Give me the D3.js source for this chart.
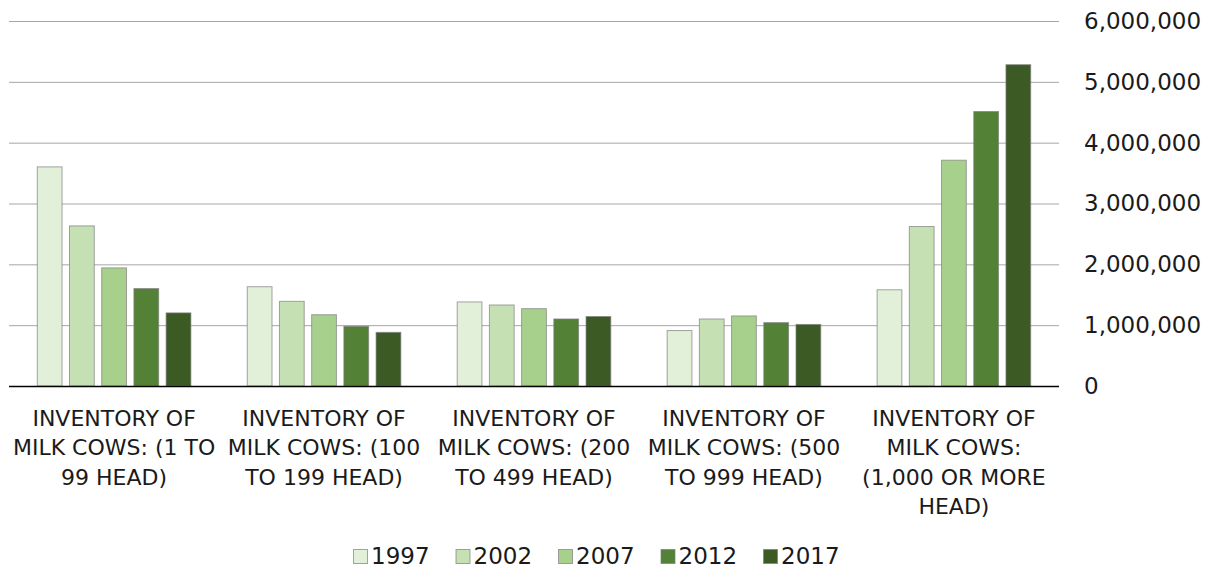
<!DOCTYPE html>
<html>
<head>
<meta charset="utf-8">
<script src="https://cdn.jsdelivr.net/npm/d3@7"></script>
<style>
  body { margin: 0; background: #fff; }
  text { font-family: "DejaVu Sans", sans-serif; fill: #1a1a1a; }
</style>
</head>
<body>
<div id="chart"></div>
<script>
const categories = [
    "INVENTORY OF MILK COWS: (1 TO 99 HEAD)",
    "INVENTORY OF MILK COWS: (100 TO 199 HEAD)",
    "INVENTORY OF MILK COWS: (200 TO 499 HEAD)",
    "INVENTORY OF MILK COWS: (500 TO 999 HEAD)",
    "INVENTORY OF MILK COWS: (1,000 OR MORE HEAD)"
]
const years = ["1997", "2002", "2007", "2012", "2017"]
const colors = ["#e2efd9", "#c5e0b3", "#a8d08d", "#538135", "#3b5a24"]
// one array per year, in category order
const v1997 = [3610000, 1640000, 1390000, 920000, 1590000]
const v2002 = [2640000, 1400000, 1340000, 1110000, 2630000]
const v2007 = [1950000, 1180000, 1280000, 1160000, 3720000]
const v2012 = [1610000, 990000, 1110000, 1050000, 4520000]
const v2017 = [1210000, 890000, 1150000, 1020000, 5290000]
const yTicks = [0, 1000000, 2000000, 3000000, 4000000, 5000000, 6000000]

const series = [v1997, v2002, v2007, v2012, v2017]

const width = 1212
const height = 572
const plot = {left: 9, right: 1059, top: 21, bottom: 386}

const svg = d3.select("#chart")
    .append("svg")
    .attr("width", width)
    .attr("height", height)

const x0 = d3.scaleBand()
    .domain(categories)
    .range([plot.left, plot.right])
    .paddingInner(0.233)
    .paddingOuter(0.117)

const x1 = d3.scaleBand()
    .domain(years)
    .range([0, x0.bandwidth()])
    .paddingInner(0.2)
    .paddingOuter(0.1)

const y = d3.scaleLinear()
    .domain([0, 6000000])
    .range([plot.bottom, plot.top])

const color = d3.scaleOrdinal().domain(years).range(colors)

// gridlines
svg.append("g")
    .selectAll("line")
    .data(yTicks.slice(1))
    .enter()
    .append("line")
    .attr("x1", plot.left)
    .attr("x2", plot.right)
    .attr("y1", d => y(d) + 0.5)
    .attr("y2", d => y(d) + 0.5)
    .attr("stroke", "#a6a6a6")
    .attr("stroke-width", 1)

// right axis labels
const yAxis = d3.axisRight(y)
    .tickValues(yTicks)
    .tickSize(0)
    .tickPadding(0)
    .tickFormat(d3.format(","))

svg.append("g")
    .attr("transform", "translate(1084,0)")
    .call(yAxis)
    .call(g => g.select(".domain").remove())
    .selectAll("text")
    .style("font-family", "DejaVu Sans, sans-serif")
    .style("font-size", "23px")
    .attr("fill", "#1a1a1a")

// bars
const groups = svg.append("g")
    .selectAll("g")
    .data(categories)
    .enter()
    .append("g")
    .attr("transform", d => "translate(" + x0(d) + ",0)")

groups.selectAll("rect")
    .data((c, i) => years.map((yr, j) => ({year: yr, value: series[j][i]})))
    .enter()
    .append("rect")
    .attr("x", d => x1(d.year) + 0.5)
    .attr("y", d => y(d.value) + 0.5)
    .attr("width", x1.bandwidth() - 1)
    .attr("height", d => plot.bottom - y(d.value) - 0.5)
    .attr("fill", d => color(d.year))
    .attr("stroke", "#7f7f7f")
    .attr("stroke-opacity", 0.7)
    .attr("stroke-width", 1)

// baseline
svg.append("line")
    .attr("x1", plot.left)
    .attr("x2", plot.right)
    .attr("y1", plot.bottom + 0.5)
    .attr("y2", plot.bottom + 0.5)
    .attr("stroke", "#000")
    .attr("stroke-width", 1.5)

// category labels, wrapped to the band width
function wrapWords(text, maxWidth, measure) {
    const words = text.split(" ")
    const lines = []
    let line = ""
    words.forEach(function(w) {
        const test = line ? line + " " + w : w
        if (line && measure(test) > maxWidth) {
            lines.push(line)
            line = w
        } else {
            line = test
        }
    })
    if (line) lines.push(line)
    return lines
}

const measurer = svg.append("text")
    .style("font-size", "22px")
    .attr("visibility", "hidden")
function measure(s) {
    measurer.text(s)
    return measurer.node().getComputedTextLength()
}

svg.append("g")
    .selectAll("text")
    .data(categories)
    .enter()
    .append("text")
    .attr("text-anchor", "middle")
    .style("font-size", "22px")
    .attr("transform", d => "translate(" + (x0(d) + x0.bandwidth() / 2) + ",426)")
    .each(function(d) {
        const lines = wrapWords(d, 207, measure)
        d3.select(this).selectAll("tspan")
            .data(lines)
            .enter()
            .append("tspan")
            .attr("x", 0)
            .attr("y", (l, i) => i * 29.3)
            .text(l => l)
    })
measurer.remove()

// legend
const legend = svg.append("g")
    .selectAll("g")
    .data(years)
    .enter()
    .append("g")
    .attr("transform", (d, i) => "translate(" + (353 + i * 102.5) + ",549)")

legend.append("rect")
    .attr("x", 0.5)
    .attr("y", 0.5)
    .attr("width", 14)
    .attr("height", 14)
    .attr("fill", d => color(d))
    .attr("stroke", "#7f7f7f")
    .attr("stroke-opacity", 0.7)

legend.append("text")
    .attr("x", 18)
    .attr("y", 15)
    .style("font-size", "23px")
    .text(d => d)
</script>
</body>
</html>
